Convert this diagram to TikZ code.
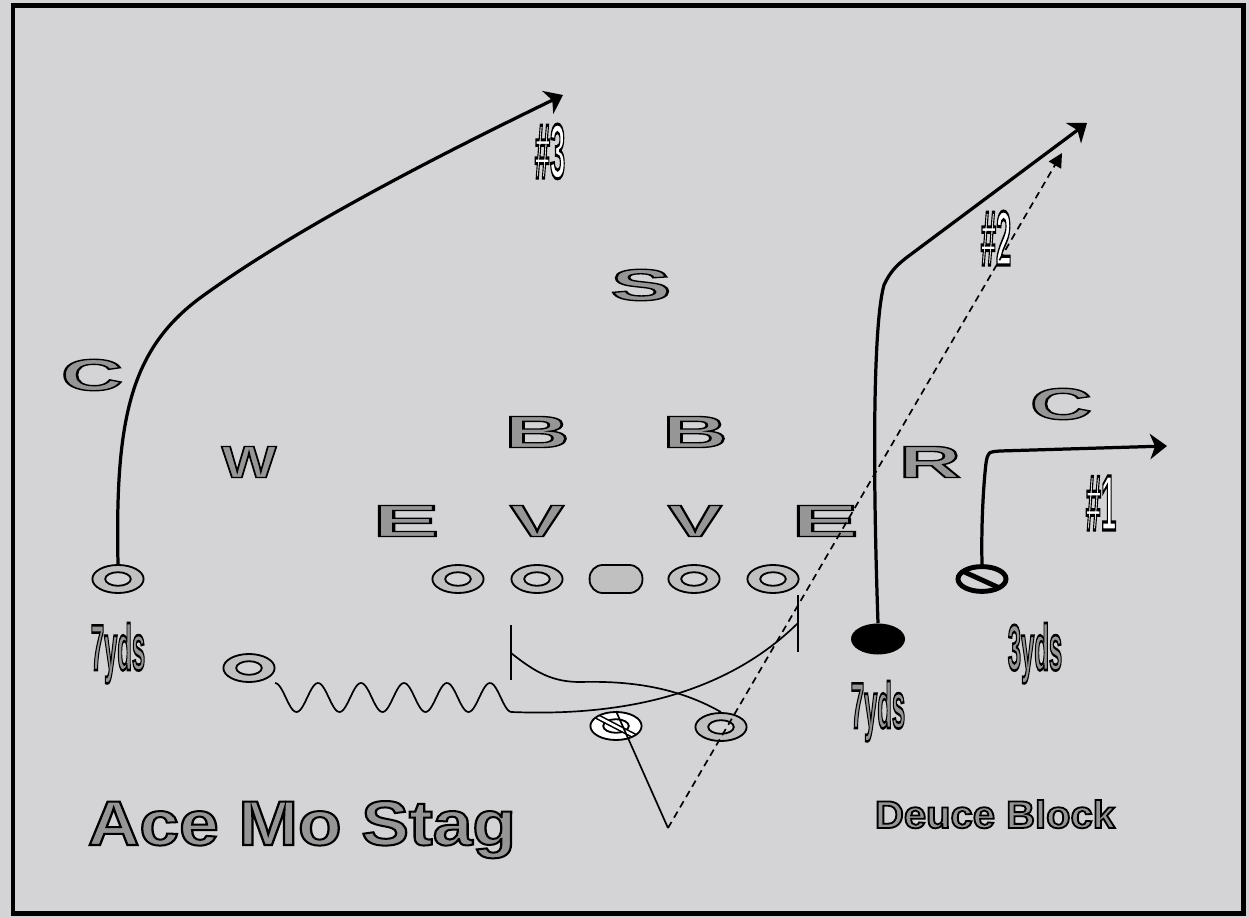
\documentclass[tikz,border=0pt]{standalone}
\usepackage{fontspec}
\setmainfont{Liberation Sans}
\usepackage{graphicx}
\usetikzlibrary{shapes.geometric, arrows.meta}
\definecolor{field}{RGB}{212,212,214}
\definecolor{ringgray}{RGB}{192,192,192}
\definecolor{markgray}{RGB}{150,150,150}
% outlined text: stroke width #1, fill colour #2
\newcommand{\outl}[3][0.8]{{\color{#2}\special{pdf:literal direct 2 Tr #1 w 0 0 0 RG}#3\special{pdf:literal direct 0 Tr}}}
\newcommand{\dletter}[2][1.6cm]{\resizebox{#1}{0.775cm}{\fontsize{30}{30}\selectfont\bfseries\outl[0.9]{markgray}{#2}}}
\newcommand{\tallnum}[1]{\resizebox{0.76cm}{1.35cm}{\fontsize{30}{30}\selectfont\bfseries\outl[1.2]{white}{#1}}}
\newcommand{\yds}[1]{\resizebox{1.36cm}{1.175cm}{\fontsize{30}{30}\selectfont\bfseries\outl[1.2]{markgray}{#1}}}

\begin{document}
\begin{tikzpicture}[x=0.025cm, y=-0.025cm,
    route/.style={line width=2.3pt, -{Stealth[length=12pt, width=18pt, inset=3.5pt]}},
    fine/.style={line width=1.2pt},
    ring/.style={ellipse, draw, fill=ringgray, line width=1.3pt, inner sep=0pt,
        minimum width=1.28cm, minimum height=0.7cm,
        path picture={\draw[line width=1.3pt, fill=field] (path picture bounding box.center) ellipse (0.32cm and 0.17cm);}},
    snapbox/.style={rectangle, draw, fill=ringgray, line width=1.3pt, rounded corners=0.33cm,
        inner sep=0pt, minimum width=1.32cm, minimum height=0.7cm},
    slashring/.style={ellipse, draw, fill=white, line width=1.3pt, inner sep=0pt,
        minimum width=1.28cm, minimum height=0.7cm,
        path picture={
            \draw[line width=1.3pt] (path picture bounding box.center) ellipse (0.32cm and 0.17cm);
            \draw[line width=4pt] ([shift={(-0.5cm,0.25cm)}]path picture bounding box.center)
                -- ([shift={(0.5cm,-0.27cm)}]path picture bounding box.center);
            \draw[white, line width=1.8pt] ([shift={(-0.5cm,0.25cm)}]path picture bounding box.center)
                -- ([shift={(0.5cm,-0.27cm)}]path picture bounding box.center);}},
    nullring/.style={ellipse, draw, line width=3.5pt, inner sep=0pt,
        minimum width=1.2cm, minimum height=0.62cm,
        path picture={\draw[line width=3.5pt] ([shift={(-0.45cm,0.18cm)}]path picture bounding box.center)
            -- ([shift={(0.45cm,-0.23cm)}]path picture bounding box.center);}},
    solid/.style={ellipse, fill=black, inner sep=0pt, minimum width=1.35cm, minimum height=0.775cm}]

    \useasboundingbox (0,0) rectangle (1249,918);
    \fill[field] (0,0) rectangle (1249,918);
    \draw[line width=3.5pt] (13,5.5) rectangle (1243.5,913.5);

    % defense
    \node (safety) at (641,285) {\dletter[1.52cm]{S}};
    \node (lbw) at (537,432) {\dletter[1.63cm]{B}};
    \node (lbs) at (695,432) {\dletter[1.63cm]{B}};
    \node (will) at (249,462) {\dletter[1.37cm]{W}};
    \node (endw) at (406,521) {\dletter[1.67cm]{E}};
    \node (tackw) at (537,521) {\dletter[1.36cm]{V}};
    \node (tacks) at (695,521) {\dletter[1.36cm]{V}};
    \node (ends) at (825,521) {\dletter[1.67cm]{E}};
    \node (cornw) at (92,375) {\dletter[1.55cm]{C}};
    \node (corns) at (1061,404) {\dletter[1.55cm]{C}};
    \node (rover) at (930,462) {\dletter[1.55cm]{R}};

    % labels
    \node[anchor=base] (num3) at (550,178) {\tallnum{\#3}};
    \node[anchor=base] (num2) at (996,265) {\tallnum{\#2}};
    \node[anchor=base] (num1) at (1101,530) {\tallnum{\#1}};
    \node[anchor=base] (ydl) at (118,670) {\yds{7yds}};
    \node[anchor=base] (ydm) at (878,728) {\yds{7yds}};
    \node[anchor=base] (ydr) at (1035,670) {\yds{3yds}};
    \node[anchor=base] (title) at (302,845)
        {\resizebox{10.7cm}{1.1cm}{\fontsize{44}{44}\selectfont\bfseries\outl[1.4]{markgray}{Ace Mo Stag}}};
    \node[anchor=base] (block) at (995,828)
        {\resizebox{6.0cm}{0.7cm}{\fontsize{28}{28}\selectfont\bfseries\outl[1.3]{markgray}{Deuce Block}}};

    % offense
    \node[ring] (lwr) at (118,579) {};
    \node[ring] (ltk) at (458,579) {};
    \node[ring] (lgd) at (537,579) {};
    \node[snapbox] (ctr) at (616,579) {};
    \node[ring] (rgd) at (694,579) {};
    \node[ring] (rtk) at (773,579) {};
    \node[ring] (tb) at (249,668) {};
    \node[slashring] (qb) at (616,726) {};
    \node[ring] (fb) at (721,727) {};
    \node[solid] (te) at (878,639) {};
    \node[nullring] (rwr) at (982,579) {};

    % routes
    \coordinate (deep3) at (563,95);
    \coordinate (deep2) at (1087,123);
    \coordinate (out1) at (1167,446);
    \draw[route] (lwr.north) .. controls (115,420) and (130,350) .. (200,298)
        .. controls (300,225) and (450,150) .. (deep3);
    \draw[route] (te.north) .. controls (872,450) and (874,320) .. (884,285)
        .. controls (890,272) and (896,266) .. (906,258) -- (deep2);
    \draw[route] (rwr.north) .. controls (981,520) and (984,480) .. (986,463)
        .. controls (988,452) .. (1000,451) -- (out1);

    % blocks and run
    \coordinate (lbar1) at (511,625);
    \coordinate (lbar2) at (511,680);
    \coordinate (lhit) at (511,653);
    \coordinate (rbar1) at (798,595);
    \coordinate (rbar2) at (798,652);
    \coordinate (rhit) at (798,623);
    \draw[fine] (lbar1) -- (lbar2);
    \draw[fine] (rbar1) -- (rbar2);
    \draw[fine] plot[domain=0:236.5, samples=150] ({275+\x}, {697.5-14.5*cos(8.3721*\x)})
        .. controls (610,716) and (720,700) .. (rhit);
    \draw[fine] (lhit) .. controls (535,672) and (552,682) .. (580,682)
        .. controls (620,681) and (672,684) .. (fb.north);

    % play action
    \coordinate (turn) at (668,828);
    \coordinate (deep2b) at (1062,153);
    \draw[fine] (qb.north) -- (turn);
    \draw[fine, dash pattern=on 5pt off 3.5pt, -{Triangle[length=10pt, width=10pt]}] (turn) -- (deep2b);
\end{tikzpicture}
\end{document}
